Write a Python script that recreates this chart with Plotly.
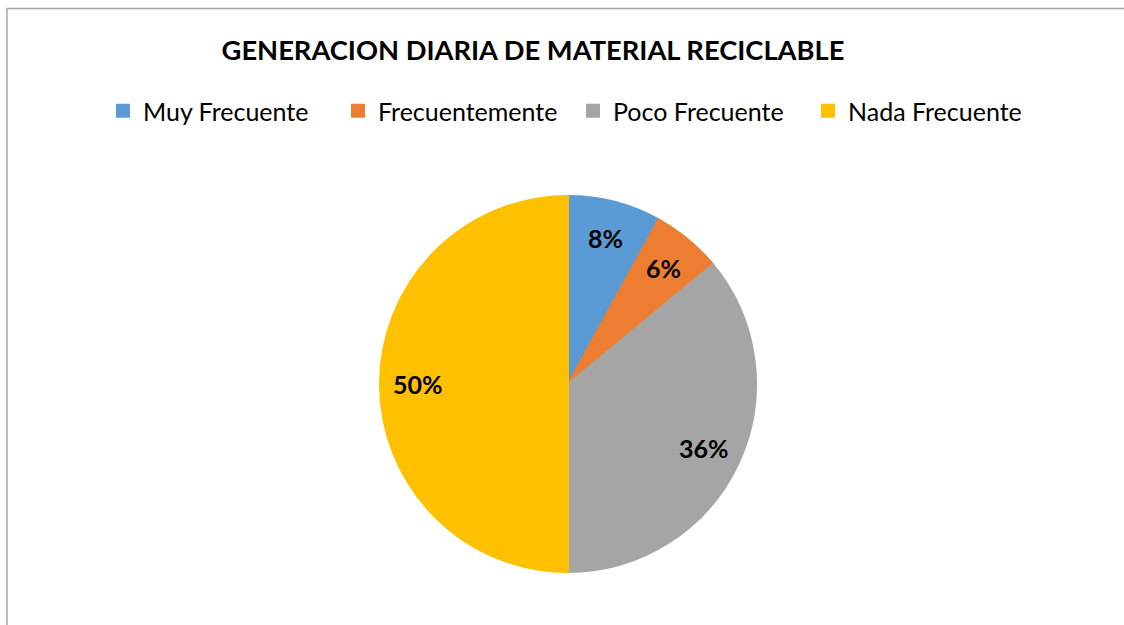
import math
import plotly.graph_objects as go

categories = ["Muy Frecuente", "Frecuentemente", "Poco Frecuente", "Nada Frecuente"]
values = [8, 6, 36, 50]
colors = ["#5B9BD5", "#ED7D31", "#A5A5A5", "#FFC000"]

W, H = 1124, 625
font = "Lato, 'Open Sans', sans-serif"

# pie geometry (pixels)
CX, CY, R = 568, 384, 188
LABEL_R = 0.8

fig = go.Figure(go.Pie(
    labels=categories,
    values=values,
    sort=False,
    direction="clockwise",
    rotation=0,
    marker=dict(colors=colors, line=dict(color=colors, width=2)),
    textinfo="none",
    domain=dict(x=[(CX - R) / W, (CX + R) / W], y=[1 - (CY + R) / H, 1 - (CY - R) / H]),
    hoverinfo="label+percent",
))

# data labels placed along each slice's mid-angle
total = sum(values)
annotations = []
cum = 0
for v in values:
    mid = (cum + v / 2) / total * 2 * math.pi
    cum += v
    annotations.append(dict(
        x=(CX + LABEL_R * R * math.sin(mid)) / W,
        y=1 - (CY - LABEL_R * R * math.cos(mid)) / H,
        xref="paper", yref="paper", showarrow=False,
        text="<b>%d%%</b>" % round(v / total * 100),
        font=dict(size=25, color="black", family=font),
        xanchor="center", yanchor="middle",
    ))

fig.update_layout(
    width=W, height=H,
    margin=dict(l=0, r=0, t=0, b=0),
    paper_bgcolor="white",
    plot_bgcolor="white",
    title=dict(text="<b>GENERACION DIARIA DE MATERIAL RECICLABLE</b>",
               x=533 / W, xanchor="center", y=1 - 50 / H, yanchor="middle",
               font=dict(size=27.3, color="black", family=font)),
    showlegend=True,
    legend=dict(orientation="h", x=573 / W, xanchor="center", y=1 - 111 / H, yanchor="middle",
                font=dict(size=25, color="black", family=font),
                entrywidth=190, entrywidthmode="pixels", traceorder="normal"),
    annotations=annotations,
    shapes=[dict(type="rect", xref="paper", yref="paper",
                 x0=7 / W, x1=1.05, y0=-0.05, y1=1 - 8.5 / H,
                 line=dict(color="#A6A6A6", width=1.5), fillcolor="rgba(0,0,0,0)")],
)

fig.write_html("out.html", config={"displayModeBar": False},
               post_script="document.body.style.margin='0';")
